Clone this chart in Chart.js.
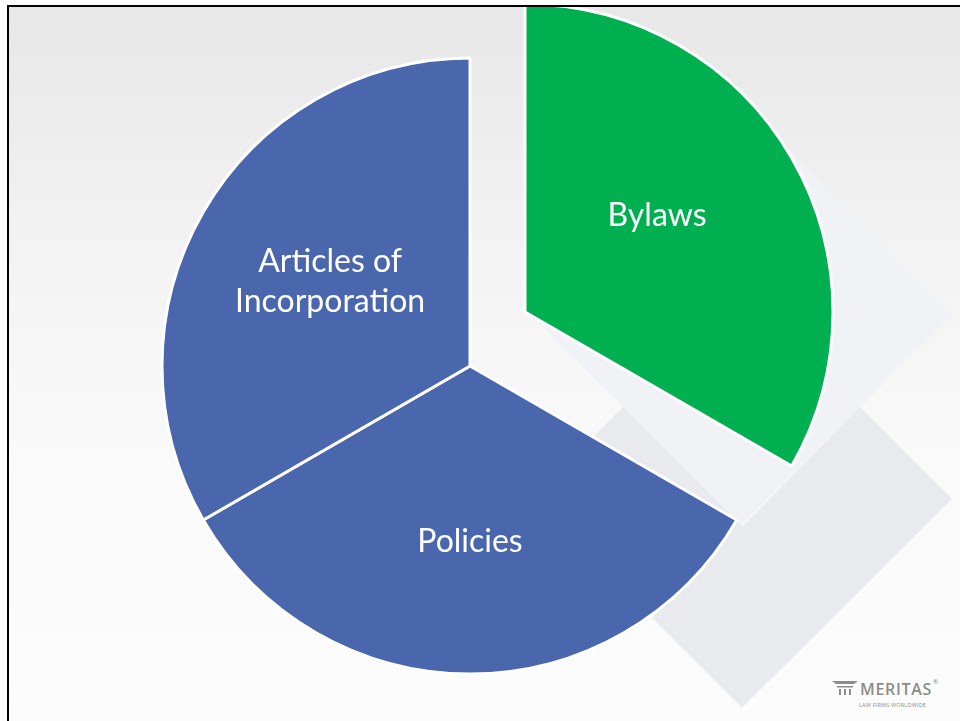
<!DOCTYPE html>
<html>
<head>
<meta charset="utf-8">
<script src="https://cdn.jsdelivr.net/npm/chart.js@4.4.0/dist/chart.umd.min.js"></script>
<style>
    html, body { margin: 0; padding: 0; background: #fff; }
    body { width: 960px; height: 721px; position: relative; overflow: hidden; }
    #slide {
        position: absolute; left: 7px; top: 5px; width: 951px; height: 716px;
        border-left: 2px solid #000; border-top: 2px solid #000;
        overflow: hidden;
        background: linear-gradient(#e7e7e7 0%, #f3f3f3 35%, #fafafa 65%, #fcfcfc 100%);
    }
    #decor { position: absolute; left: -9px; top: -7px; }
    .pie { position: absolute; width: 700px; height: 700px; }
    #mainPie { left: 111px; top: 9px; }
    #explodedPie { left: 166px; top: -45px; }
    #logo { position: absolute; left: 823px; top: 667px; font-family: "Open Sans", sans-serif; color: #8c8c8c; }
</style>
</head>
<body>
<div id="slide">
    <svg id="decor" width="960" height="721">
        <polygon points="952,315 741,526 528,312 740,100" fill="#f1f2f6"/>
        <polygon points="623,407 760,544 700,604 563,467" fill="#e9eaee"/>
        <polygon points="860,407 952,499 742,708 652,618" fill="#e9eaee"/>
    </svg>
    <div class="pie" id="mainPie"><canvas id="c1"></canvas></div>
    <div class="pie" id="explodedPie"><canvas id="c2"></canvas></div>
    <div id="logo">
        <svg width="26" height="14" style="position:absolute;left:0;top:7px">
            <path d="M0 0 H26 L22 3 H4 Z" fill="#8c8c8c"/>
            <rect x="5" y="5" width="16" height="1.5" fill="#8c8c8c"/>
            <rect x="7" y="8" width="2" height="6" fill="#8c8c8c"/>
            <rect x="12" y="8" width="2" height="6" fill="#8c8c8c"/>
            <rect x="17" y="8" width="2" height="6" fill="#8c8c8c"/>
        </svg>
        <div style="position:absolute;left:28px;top:4px;font-size:16px;font-weight:600;letter-spacing:0.7px;white-space:nowrap">MERITAS<sup style="font-size:6px;vertical-align:top;margin-left:1px">®</sup></div>
        <div style="position:absolute;left:27px;top:27px;font-size:5.5px;white-space:nowrap;letter-spacing:0.2px">LAW FIRMS WORLDWIDE</div>
    </div>
</div>
<script>
    // slices go clockwise from 12 o'clock
    const categories = ["Bylaws", "Policies", "Articles of Incorporation"];
    const label_lines = [["Bylaws"], ["Policies"], ["Articles of", "Incorporation"]];
    const values = [1, 1, 1];
    const colors = ["#00b050", "#4a66ac", "#4a66ac"];

    // draw slice names inside the slices
    const sliceLabels = {
        id: "sliceLabels",
        afterDatasetsDraw(chart, args, opts) {
            const ctx = chart.ctx;
            const meta = chart.getDatasetMeta(0);
            meta.data.forEach((arc, i) => {
                if (!opts.show.includes(i)) return;
                const mid = (arc.startAngle + arc.endAngle) / 2 + opts.shift[i] * Math.PI / 180;
                const r = arc.outerRadius * opts.dist[i];
                const x = arc.x + Math.cos(mid) * r;
                const y = arc.y + Math.sin(mid) * r;
                const lines = label_lines[i];
                ctx.save();
                ctx.fillStyle = "#ffffff";
                ctx.font = "32px Lato, sans-serif";
                ctx.textAlign = "center";
                ctx.textBaseline = "middle";
                lines.forEach((line, k) => {
                    ctx.fillText(line, x, y + (k - (lines.length - 1) / 2) * 40);
                });
                ctx.restore();
            });
        },
    };

    function make_pie(id, show) {
        return new Chart(document.getElementById(id), {
            type: "pie",
            data: {
                labels: categories,
                datasets: [
                    {
                        data: values,
                        backgroundColor: colors.map((c, i) => (show.includes(i) ? c : "rgba(0,0,0,0)")),
                        borderColor: colors.map((c, i) => (show.includes(i) ? "#ffffff" : "rgba(0,0,0,0)")),
                        borderWidth: 3,
                    },
                ],
            },
            options: {
                responsive: true,
                maintainAspectRatio: false,
                animation: false,
                radius: 308,
                layout: { padding: 0 },
                plugins: {
                    legend: { display: false },
                    tooltip: { enabled: false },
                    sliceLabels: { show: show, dist: [0.53, 0.57, 0.53], shift: [-6, 0, 1] },
                },
            },
            plugins: [sliceLabels],
        });
    }

    make_pie("c1", [1, 2]);
    make_pie("c2", [0]);
</script>
</body>
</html>
